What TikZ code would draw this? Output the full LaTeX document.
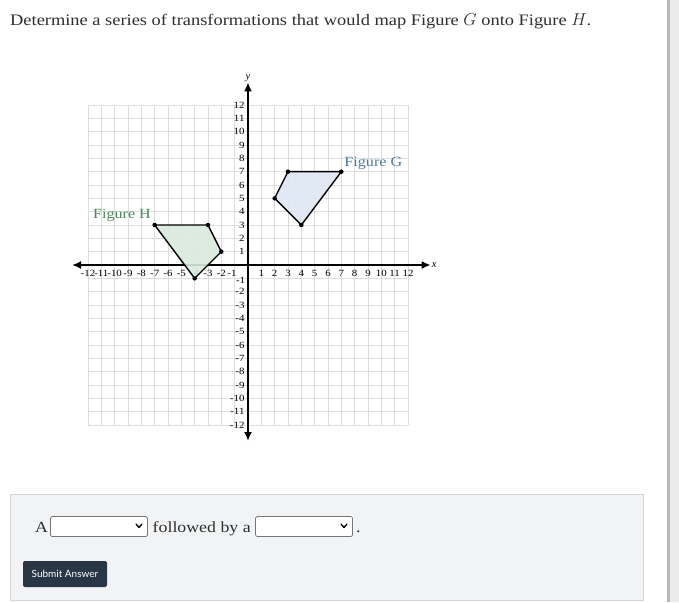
\documentclass[tikz,border=0pt]{standalone}
\usepackage{fontspec}
\setmainfont{Liberation Serif}
\newfontfamily\bodyfont{Liberation Serif}[FakeStretch=1.15]
\newfontfamily\btnfont{Lato}
\usetikzlibrary{arrows.meta}
\definecolor{gridc}{HTML}{DDDDDD}
\definecolor{gcol}{HTML}{4B7B9E}
\definecolor{hcol}{HTML}{4A8A5C}
\definecolor{gfill}{HTML}{DFE7F3}
\definecolor{hfill}{HTML}{DAEBDD}
\definecolor{panelc}{HTML}{F2F3F5}
\definecolor{panelb}{HTML}{D4D4D4}
\definecolor{btnc}{HTML}{283645}
\definecolor{selb}{HTML}{767676}
\definecolor{textc}{HTML}{2E2E2E}
\tikzset{
  gridline/.style={draw=gridc, line width=0.6pt},
  axisline/.style={line width=2pt, {Latex[length=9pt,width=8pt]}-{Latex[length=9pt,width=8pt]}},
  ticklab/.style={font=\bodyfont\fontsize{9.5}{10}\selectfont, inner sep=0pt},
  figedge/.style={draw=black, line width=1.4pt, line join=round},
  vdot/.style={circle, fill=black, inner sep=0pt, minimum size=4.5pt},
  figlab/.style={font=\bodyfont\fontsize{14}{15}\selectfont, inner sep=0pt},
  selbox/.style={draw=selb, fill=white, line width=0.7pt, rounded corners=1.5pt},
  chev/.style={line width=1.3pt, line cap=round, line join=round},
  bodytext/.style={font=\bodyfont\fontsize{16}{18}\selectfont, text=textc, inner sep=0pt, anchor=base west},
  paneltext/.style={bodytext, font=\bodyfont\fontsize{15.5}{18}\selectfont}
}
\begin{document}
\begin{tikzpicture}[x=1pt,y=-1pt]
\useasboundingbox (0,0) rectangle (679,602);
\fill[white] (0,0) rectangle (679,602);
% right shadow bar
\fill[black!8] (669,0) rectangle (679,602);
\fill[black!28] (667,0) rectangle (670,602);

\node[bodytext] (title) at (10,25.7) {Determine a series of transformations that would map Figure $G$ onto Figure $H$.};

\begin{scope}[shift={(248,265)}, x=13.333pt, y=13.333pt]
  \draw[gridline, step=1] (-12,-12) grid (12,12);
  \coordinate (xl) at (-13.2,0);
  \coordinate (xr) at (13.7,0);
  \coordinate (yb) at (0,-13.2);
  \coordinate (yt) at (0,13.7);
  \draw[axisline] (xl) -- (xr);
  \draw[axisline] (yb) -- (yt);
  \node[font=\itshape\fontsize{10.5}{11}\selectfont, anchor=west, inner sep=1pt] (xlab) at (xr) {x};
  \node[font=\itshape\fontsize{10.5}{11}\selectfont, anchor=south, inner sep=0.5pt] (ylab) at (yt) {y};
  \foreach \i in {-12,...,-2,1,2,...,12} {
    \node[ticklab] (xt\i) at (\i,-0.62) {\i};
  }
  \node[ticklab] (xt-1) at (-1.2,-0.6) {-1};
  \foreach \i in {-12,...,-2,1,2,...,12} {
    \node[ticklab, anchor=east] (yt\i) at (-0.25,\i) {\i};
  }
  \node[ticklab, anchor=east] (yt-1) at (-0.2,-1.12) {-1};
  % Figure G
  \coordinate (g1) at (3,7);
  \coordinate (g2) at (7,7);
  \coordinate (g3) at (4,3);
  \coordinate (g4) at (2,5);
  \fill[gfill, opacity=0.9] (g1) -- (g2) -- (g3) -- (g4) -- cycle;
  \draw[figedge] (g1) -- (g2) -- (g3) -- (g4) -- cycle;
  \foreach \p in {g1,g2,g3,g4} \node[vdot] at (\p) {};
  % Figure H
  \coordinate (h1) at (-7,3);
  \coordinate (h2) at (-3,3);
  \coordinate (h3) at (-2,1);
  \coordinate (h4) at (-4,-1);
  \fill[hfill, opacity=0.9] (h1) -- (h2) -- (h3) -- (h4) -- cycle;
  \draw[figedge] (h1) -- (h2) -- (h3) -- (h4) -- cycle;
  \foreach \p in {h1,h2,h3,h4} \node[vdot] at (\p) {};
  \node[figlab, text=gcol] (labG) at (9.4,7.65) {Figure G};
  \node[figlab, text=hcol] (labH) at (-9.45,3.7) {Figure H};
\end{scope}

% answer panel
\draw[draw=panelb, fill=panelc, line width=0.8pt] (10.5,494.5) rectangle (643.5,600.5);
\node[paneltext] (wA) at (35,532) {A};
\draw[selbox] (50.5,516.5) rectangle (147.5,536.5);
\draw[chev] (136,524) -- (139,527.5) -- (142,524);
\node[paneltext] (wfollow) at (152.5,532) {followed by a};
\draw[selbox] (255.5,516.5) rectangle (352.5,536.5);
\draw[chev] (341,524) -- (344,527.5) -- (347,524);
\node[paneltext] (wdot) at (356,532) {.};
\node[fill=btnc, rounded corners=2pt, minimum width=84pt, minimum height=26pt, inner sep=0pt,
      text=white, font=\btnfont\fontsize{10}{11}\selectfont] (submit) at (65,574) {Submit Answer};
\end{tikzpicture}
\end{document}
